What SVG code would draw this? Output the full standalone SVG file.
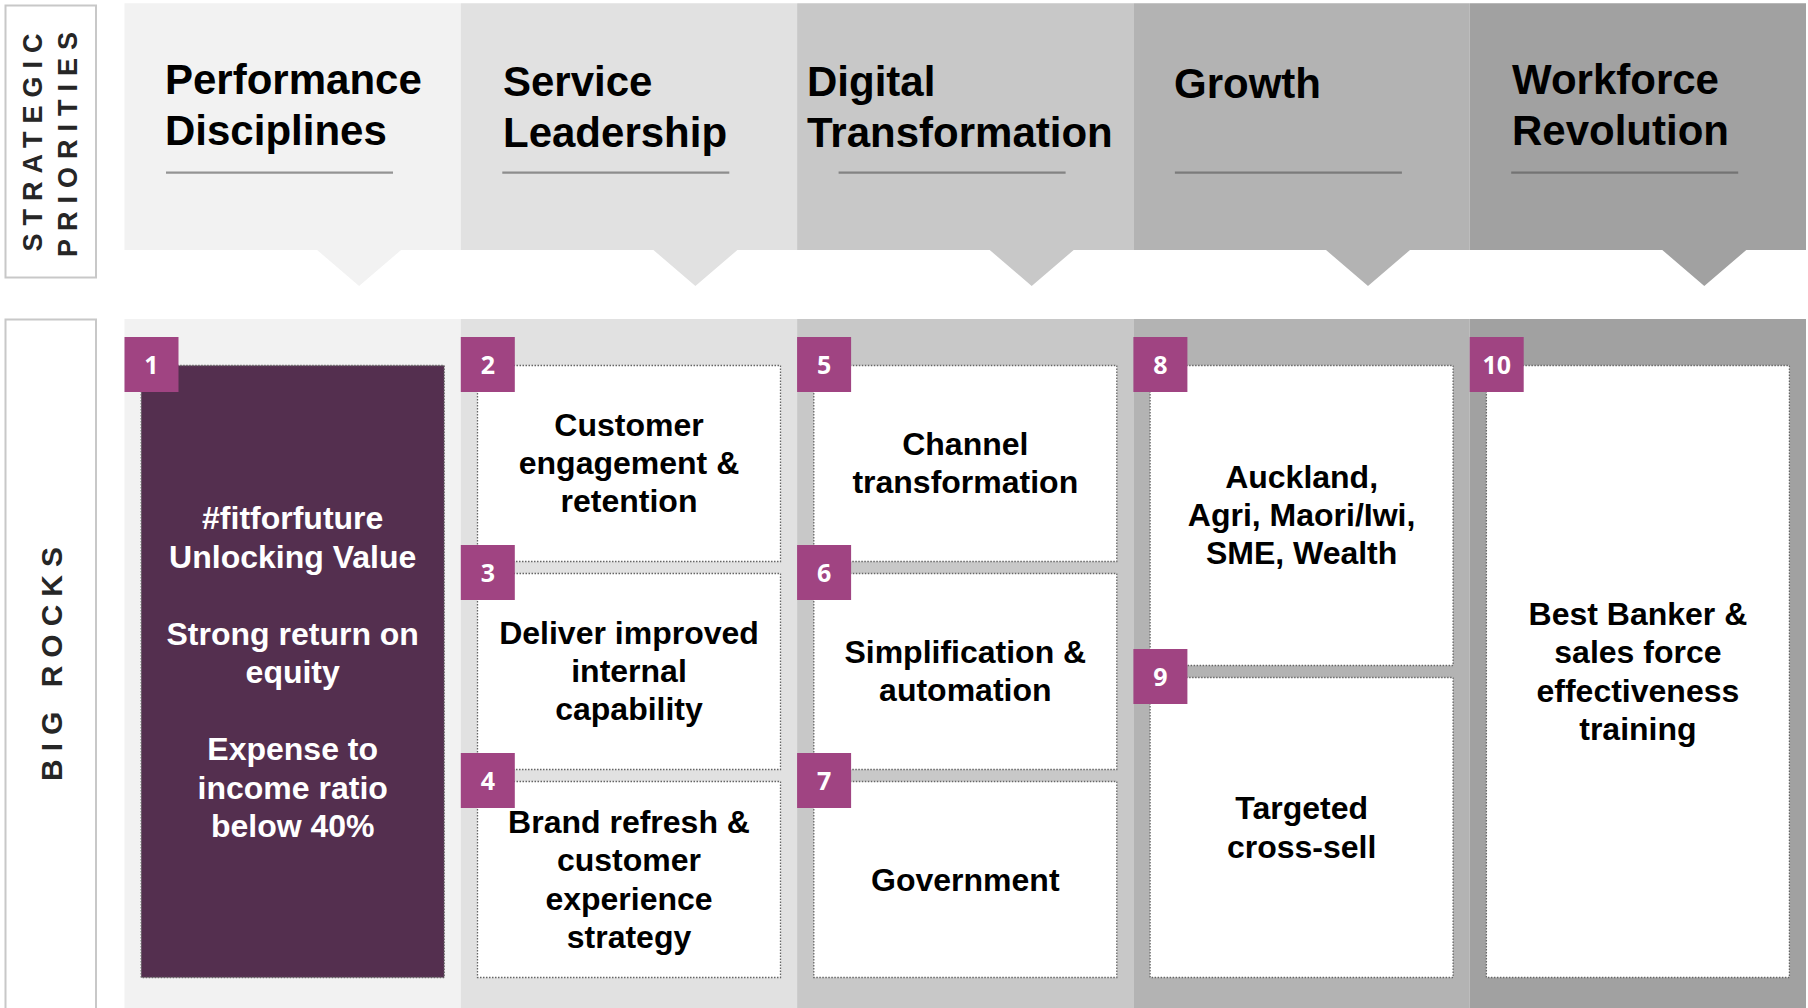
<svg xmlns="http://www.w3.org/2000/svg" width="1808" height="1008" viewBox="0 0 1808 1008">
<style>
.hdr{font-family:"Liberation Sans",Arial,sans-serif;font-weight:700;font-size:42px;fill:#000}
.side{font-family:"Liberation Sans",Arial,sans-serif;font-weight:700;fill:#262626;letter-spacing:8px;text-anchor:middle}
.ct{font-family:"Liberation Sans",Arial,sans-serif;font-weight:700;font-size:32px;fill:#000;text-anchor:middle}
.ctw{fill:#fff}
.card{fill:#fff;stroke:#666;stroke-width:1.3;stroke-dasharray:1.5 1.5}
.dark{fill:#542f4f}
.badge{fill:#a04482}
.num{font-family:"Open Sans","Liberation Sans",sans-serif;font-weight:700;font-size:25px;fill:#fff;text-anchor:middle}
.ul{stroke:#555;stroke-opacity:0.6;stroke-width:2.2}
.lbox{fill:#fff;stroke:#c8c8c8;stroke-width:2}
</style>
<rect width="1808" height="1008" fill="#fff"/>

<!-- side labels -->
<g id="label-strategic-priorities">
<rect class="lbox" x="5.5" y="5.5" width="90.5" height="272"/>
<text class="side" font-size="27" x="4" y="0" transform="translate(41.7,142.4) rotate(-90)">STRATEGIC</text>
<text class="side" font-size="27" x="4" y="0" transform="translate(77.3,144.5) rotate(-90)">PRIORITIES</text>
</g>
<g id="label-big-rocks">
<rect class="lbox" x="5.5" y="319.5" width="90.5" height="720"/>
<text class="side" font-size="30" x="4" y="0" transform="translate(61.7,664) rotate(-90)">BIG ROCKS</text>
</g>

<!-- headers -->
<g id="header-performance">
<path d="M124.5 3.3H460.8V250H401.1L359.1 286L317.1 250H124.5Z" fill="#f2f2f2"/>
<text class="hdr" x="165" y="94">Performance</text>
<text class="hdr" x="165" y="145">Disciplines</text>
<line class="ul" x1="166" y1="172.7" x2="393" y2="172.7"/>
</g>
<g id="header-service">
<path d="M460.8 3.3H797.1V250H737.4L695.4 286L653.4 250H460.8Z" fill="#e1e1e1"/>
<text class="hdr" x="503" y="95.5">Service</text>
<text class="hdr" x="503" y="146.7">Leadership</text>
<line class="ul" x1="502.3" y1="172.7" x2="729.3" y2="172.7"/>
</g>
<g id="header-digital">
<path d="M797.1 3.3H1133.4V250H1073.7L1031.7 286L989.7 250H797.1Z" fill="#c8c8c8"/>
<text class="hdr" x="807" y="95.5">Digital</text>
<text class="hdr" x="807" y="146.7">Transformation</text>
<line class="ul" x1="838.6" y1="172.7" x2="1065.6" y2="172.7"/>
</g>
<g id="header-growth">
<path d="M1133.4 3.3H1469.7V250H1410L1368 286L1326 250H1133.4Z" fill="#b3b3b3"/>
<text class="hdr" x="1174" y="98">Growth</text>
<line class="ul" x1="1174.9" y1="172.7" x2="1401.9" y2="172.7"/>
</g>
<g id="header-workforce">
<path d="M1469.7 3.3H1806V250H1746.3L1704.3 286L1662.3 250H1469.7Z" fill="#a1a1a1"/>
<text class="hdr" x="1512" y="94">Workforce</text>
<text class="hdr" x="1512" y="145">Revolution</text>
<line class="ul" x1="1511.2" y1="172.7" x2="1738.2" y2="172.7"/>
</g>

<!-- body column backgrounds -->
<g id="body-columns">
<rect x="124.5" y="319" width="336.3" height="689" fill="#f2f2f2"/>
<rect x="460.8" y="319" width="336.3" height="689" fill="#e1e1e1"/>
<rect x="797.1" y="319" width="336.3" height="689" fill="#c8c8c8"/>
<rect x="1133.4" y="319" width="336.3" height="689" fill="#b3b3b3"/>
<rect x="1469.7" y="319" width="336.3" height="689" fill="#a1a1a1"/>
</g>

<g id="connectors"/>

<!-- cards -->
<g id="rock-1">
<rect class="card dark" x="141.2" y="365.5" width="303" height="612"/>
<text class="ct ctw" x="292.7"><tspan x="292.7" y="529">#fitforfuture</tspan><tspan x="292.7" y="567.5">Unlocking Value</tspan><tspan x="292.7" y="644.5">Strong return on</tspan><tspan x="292.7" y="683">equity</tspan><tspan x="292.7" y="760">Expense to</tspan><tspan x="292.7" y="798.5">income ratio</tspan><tspan x="292.7" y="837">below 40%</tspan></text>
</g>
<g id="rock-2">
<rect class="card" x="477.5" y="365.5" width="303" height="196"/>
<text class="ct"><tspan x="629" y="435.6">Customer</tspan><tspan x="629" y="474">engagement &amp;</tspan><tspan x="629" y="512.4">retention</tspan></text>
</g>
<g id="rock-3">
<rect class="card" x="477.5" y="573.5" width="303" height="196"/>
<text class="ct"><tspan x="629" y="643.6">Deliver improved</tspan><tspan x="629" y="682">internal</tspan><tspan x="629" y="720.4">capability</tspan></text>
</g>
<g id="rock-4">
<rect class="card" x="477.5" y="781.5" width="303" height="196"/>
<text class="ct"><tspan x="629" y="832.9">Brand refresh &amp;</tspan><tspan x="629" y="871.3">customer</tspan><tspan x="629" y="909.7">experience</tspan><tspan x="629" y="948.1">strategy</tspan></text>
</g>
<g id="rock-5">
<rect class="card" x="813.8" y="365.5" width="303" height="196"/>
<text class="ct"><tspan x="965.3" y="454.8">Channel</tspan><tspan x="965.3" y="493.2">transformation</tspan></text>
</g>
<g id="rock-6">
<rect class="card" x="813.8" y="573.5" width="303" height="196"/>
<text class="ct"><tspan x="965.3" y="662.8">Simplification &amp;</tspan><tspan x="965.3" y="701.2">automation</tspan></text>
</g>
<g id="rock-7">
<rect class="card" x="813.8" y="781.5" width="303" height="196"/>
<text class="ct" x="965.3" y="890.5">Government</text>
</g>
<g id="rock-8">
<rect class="card" x="1150.1" y="365.5" width="303" height="300"/>
<text class="ct"><tspan x="1301.6" y="487.6">Auckland,</tspan><tspan x="1301.6" y="526">Agri, Maori/Iwi,</tspan><tspan x="1301.6" y="564.4">SME, Wealth</tspan></text>
</g>
<g id="rock-9">
<rect class="card" x="1150.1" y="677.5" width="303" height="300"/>
<text class="ct"><tspan x="1301.6" y="819.3">Targeted</tspan><tspan x="1301.6" y="857.7">cross-sell</tspan></text>
</g>
<g id="rock-10">
<rect class="card" x="1486.4" y="365.5" width="303" height="612"/>
<text class="ct"><tspan x="1637.9" y="624.9">Best Banker &amp;</tspan><tspan x="1637.9" y="663.3">sales force</tspan><tspan x="1637.9" y="701.7">effectiveness</tspan><tspan x="1637.9" y="740.1">training</tspan></text>
</g>

<!-- badges -->
<g id="badge-1"><rect class="badge" x="124.5" y="337" width="54" height="55"/><text class="num" x="151.5" y="373.5">1</text></g>
<g id="badge-2"><rect class="badge" x="460.8" y="337" width="54" height="55"/><text class="num" x="487.8" y="373.5">2</text></g>
<g id="badge-3"><rect class="badge" x="460.8" y="545" width="54" height="55"/><text class="num" x="487.8" y="581.5">3</text></g>
<g id="badge-4"><rect class="badge" x="460.8" y="753" width="54" height="55"/><text class="num" x="487.8" y="789.5">4</text></g>
<g id="badge-5"><rect class="badge" x="797.1" y="337" width="54" height="55"/><text class="num" x="824.1" y="373.5">5</text></g>
<g id="badge-6"><rect class="badge" x="797.1" y="545" width="54" height="55"/><text class="num" x="824.1" y="581.5">6</text></g>
<g id="badge-7"><rect class="badge" x="797.1" y="753" width="54" height="55"/><text class="num" x="824.1" y="789.5">7</text></g>
<g id="badge-8"><rect class="badge" x="1133.4" y="337" width="54" height="55"/><text class="num" x="1160.4" y="373.5">8</text></g>
<g id="badge-9"><rect class="badge" x="1133.4" y="649" width="54" height="55"/><text class="num" x="1160.4" y="685.5">9</text></g>
<g id="badge-10"><rect class="badge" x="1469.7" y="337" width="54" height="55"/><text class="num" x="1496.7" y="373.5">10</text></g>
</svg>
